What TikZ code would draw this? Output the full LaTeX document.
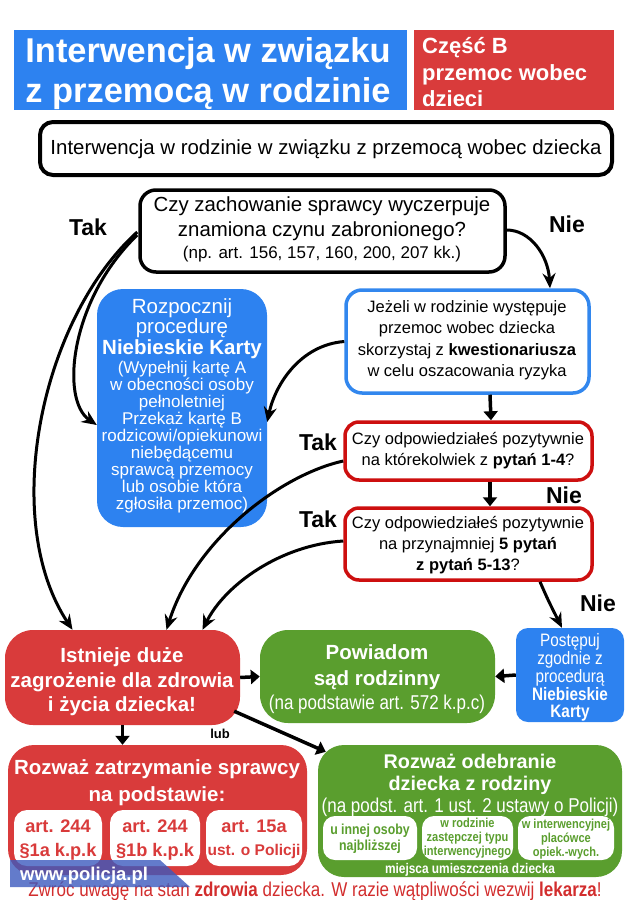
\documentclass[tikz,border=0pt]{standalone}
\usepackage{fontspec}
\setmainfont{Liberation Sans}
\newfontfamily\nar[FakeStretch=0.85]{Liberation Sans}
\usetikzlibrary{arrows.meta,calc}
\definecolor{tblue}{RGB}{45,130,240}
\definecolor{tred}{RGB}{217,59,59}
\definecolor{tgreen}{RGB}{90,158,46}
\definecolor{qred}{RGB}{205,15,15}
\definecolor{jblue}{RGB}{50,135,238}
\definecolor{wm}{RGB}{60,90,190}
\definecolor{btxt}{RGB}{210,45,45}
\newcommand\fsz[1]{\fontsize{#1}{#1}\selectfont}
% name, x, y(visual centre), size, font switches, keys, text
\newcommand\mytx[7]{\node[txt,font=#5\fsz{#4},#6] (#1) at (#2,{#3+0.3*#4}) {#7};}
\begin{document}
\begin{tikzpicture}[x=1pt,y=-1pt,
  txt/.style={inner sep=0pt,anchor=base},
  arr/.style={line width=3pt,-{Stealth[length=15pt,width=13pt,inset=5pt]}},
  sarr/.style={line width=3.5pt,-{Triangle[length=9pt,width=14pt]}},
  fbox/.style={inner sep=0pt,draw=none},
  wt/.style={text=white}]
\useasboundingbox (0,0) rectangle (628,900);
% header
\node[fbox,fill=tblue,minimum width=393,minimum height=80] (title) at (210.5,70) {};
\mytx{t1}{208}{52}{34.4}{\bfseries}{wt}{Interwencja w związku}
\mytx{t2}{208}{92}{34.4}{\bfseries}{wt}{z przemocą w rodzinie}
\node[fbox,fill=tred,minimum width=200,minimum height=80] (partb) at (514,70) {};
\mytx{p1}{422}{47}{22}{\bfseries}{anchor=base west,wt}{Część B}
\mytx{p2}{422}{74}{22}{\bfseries}{anchor=base west,wt}{przemoc wobec}
\mytx{p3}{422}{100}{22}{\bfseries}{anchor=base west,wt}{dzieci}
% intro
\node[fbox,draw=black,line width=4,rounded corners=13,minimum width=572,minimum height=53] (intro) at (326,148.5) {};
\mytx{i1}{326}{148}{20.4}{}{}{Interwencja w rodzinie w związku z przemocą wobec dziecka}
% question 1
\node[fbox,draw=black,line width=3.5,rounded corners=16,minimum width=365,minimum height=82] (q1) at (322.5,231) {};
\mytx{q1a}{322}{205}{20.4}{}{}{Czy zachowanie sprawcy wyczerpuje}
\mytx{q1b}{322}{230}{20.4}{}{}{znamiona czynu zabronionego?}
\mytx{q1c}{322}{253}{17}{}{}{(np. art. 156, 157, 160, 200, 207 kk.)}
\mytx{tak1}{88}{229}{23}{\bfseries}{}{Tak}
\mytx{nie1}{567}{226}{23}{\bfseries}{}{Nie}
% blue procedure box
\node[fbox,fill=tblue,rounded corners=26,minimum width=170,minimum height=238] (rozp) at (182,408) {};
\mytx{r01}{182}{307}{20.5}{}{wt}{Rozpocznij}
\mytx{r02}{182}{327}{20.5}{}{wt}{procedurę}
\mytx{r03}{182}{348}{20.5}{\bfseries}{wt}{Niebieskie Karty}
\mytx{r04}{182}{368}{17}{}{wt}{(Wypełnij kartę A}
\mytx{r05}{182}{385}{17}{}{wt}{w obecności osoby}
\mytx{r06}{182}{402}{17}{}{wt}{pełnoletniej}
\mytx{r07}{182}{419}{17}{}{wt}{Przekaż kartę B}
\mytx{r08}{182}{436}{17}{}{wt}{rodzicowi/opiekunowi}
\mytx{r09}{182}{453}{17}{}{wt}{niebędącemu}
\mytx{r10}{182}{470}{17}{}{wt}{sprawcą przemocy}
\mytx{r11}{182}{487}{17}{}{wt}{lub osobie która}
\mytx{r12}{182}{504}{17}{}{wt}{zgłosiła przemoc)}
% questionnaire box
\node[fbox,draw=jblue,fill=white,line width=3.5,rounded corners=16,minimum width=243,minimum height=103] (jez) at (467.5,341.5) {};
\mytx{j1}{467}{308}{16.5}{}{}{Jeżeli w rodzinie występuje}
\mytx{j2}{467}{329}{16.5}{}{}{przemoc wobec dziecka}
\mytx{j3}{467}{351}{16.5}{}{}{skorzystaj z \textbf{kwestionariusza}}
\mytx{j4}{467}{372}{16.5}{}{}{w celu oszacowania ryzyka}
% red questions
\node[fbox,draw=qred,fill=white,line width=3.5,rounded corners=14,minimum width=247,minimum height=58] (r1) at (468.5,451) {};
\mytx{r1a}{468}{440}{16.5}{}{}{Czy odpowiedziałeś pozytywnie}
\mytx{r1b}{468}{461}{16.5}{}{}{na którekolwiek z \textbf{pytań 1-4}?}
\node[fbox,draw=qred,fill=white,line width=3.5,rounded corners=14,minimum width=247,minimum height=72] (r2) at (468.5,544) {};
\mytx{r2a}{468}{524}{16.5}{}{}{Czy odpowiedziałeś pozytywnie}
\mytx{r2b}{468}{545}{16.5}{}{}{na przynajmniej \textbf{5 pytań}}
\mytx{r2c}{468}{566}{16.5}{}{}{\textbf{z pytań 5-13}?}
\mytx{tak2}{318}{444}{23}{\bfseries}{}{Tak}
\mytx{tak3}{318}{521}{23}{\bfseries}{}{Tak}
\mytx{nie2}{564}{497}{23}{\bfseries}{}{Nie}
\mytx{nie3}{598}{605}{23}{\bfseries}{}{Nie}
% middle row
\node[fbox,fill=tred,rounded corners=28,minimum width=235,minimum height=95] (big) at (122.5,677.5) {};
\mytx{b1}{122}{656}{20.5}{\bfseries}{wt}{Istnieje duże}
\mytx{b2}{122}{681}{20.5}{\bfseries}{wt}{zagrożenie dla zdrowia}
\mytx{b3}{122}{705}{20.5}{\bfseries}{wt}{i życia dziecka!}
\node[fbox,fill=tgreen,rounded corners=28,minimum width=235,minimum height=93] (pow) at (377.5,676.5) {};
\mytx{w1}{377}{653}{20.5}{\bfseries}{wt}{Powiadom}
\mytx{w2}{377}{679}{20.5}{\bfseries}{wt}{sąd rodzinny}
\mytx{w3}{377}{703}{20}{\nar}{wt}{(na podstawie art. 572 k.p.c)}
\node[fbox,fill=tblue,rounded corners=12,minimum width=108,minimum height=94] (post) at (570,675) {};
\mytx{o1}{570}{641}{18}{\nar}{wt}{Postępuj}
\mytx{o2}{570}{659}{18}{\nar}{wt}{zgodnie z}
\mytx{o3}{570}{677}{18}{\nar}{wt}{procedurą}
\mytx{o4}{570}{695}{18}{\nar\bfseries}{wt}{Niebieskie}
\mytx{o5}{570}{712}{18}{\nar\bfseries}{wt}{Karty}
% bottom red
\node[fbox,fill=tred,rounded corners=26,minimum width=299,minimum height=130] (zat) at (157.5,810) {};
\mytx{z1}{157}{768}{20.5}{\bfseries}{wt}{Rozważ zatrzymanie sprawcy}
\mytx{z2}{157}{795}{20.5}{\bfseries}{wt}{na podstawie:}
\node[fbox,fill=white,rounded corners=13,minimum width=88,minimum height=56] (s1) at (58,838) {};
\node[fbox,fill=white,rounded corners=13,minimum width=90,minimum height=56] (s2) at (155,838) {};
\node[fbox,fill=white,rounded corners=13,minimum width=96,minimum height=56] (s3) at (254,838) {};
\mytx{s1a}{58}{827}{18.2}{\bfseries}{text=tred}{art. 244}
\mytx{s1b}{58}{851}{18.2}{\bfseries}{text=tred}{§1a k.p.k}
\mytx{s2a}{155}{827}{18.2}{\bfseries}{text=tred}{art. 244}
\mytx{s2b}{155}{851}{18.2}{\bfseries}{text=tred}{§1b k.p.k}
\mytx{s3a}{254}{827}{18.2}{\bfseries}{text=tred}{art. 15a}
\mytx{s3b}{254}{851}{15.5}{\bfseries}{text=tred}{ust. o Policji}
% bottom green
\node[fbox,fill=tgreen,rounded corners=26,minimum width=304,minimum height=132] (odb) at (470,811) {};
\mytx{d1}{470}{763}{19.8}{\bfseries}{wt}{Rozważ odebranie}
\mytx{d2}{470}{785}{19.8}{\bfseries}{wt}{dziecka z rodziny}
\mytx{d3}{470}{806}{20}{\nar}{wt}{(na podst. art. 1 ust. 2 ustawy o Policji)}
\node[fbox,fill=white,rounded corners=12,minimum width=94,minimum height=44] (g1) at (370,838) {};
\node[fbox,fill=white,rounded corners=12,minimum width=91,minimum height=44] (g2) at (467.5,838) {};
\node[fbox,fill=white,rounded corners=12,minimum width=96,minimum height=44] (g3) at (566,838) {};
\mytx{g1a}{370}{830}{14.5}{\nar\bfseries}{text=tgreen}{u innej osoby}
\mytx{g1b}{370}{846}{14.5}{\nar\bfseries}{text=tgreen}{najbliższej}
\mytx{g2a}{467.5}{824}{13}{\nar\bfseries}{text=tgreen}{w rodzinie}
\mytx{g2b}{467.5}{838}{13}{\nar\bfseries}{text=tgreen}{zastępczej typu}
\mytx{g2c}{467.5}{852}{13}{\nar\bfseries}{text=tgreen}{interwencyjnego}
\mytx{g3a}{566}{825}{13}{\nar\bfseries}{text=tgreen}{w interwencyjnej}
\mytx{g3b}{566}{839}{13}{\nar\bfseries}{text=tgreen}{placówce}
\mytx{g3c}{566}{853}{13}{\nar\bfseries}{text=tgreen}{opiek.-wych.}
\mytx{mu}{470}{869}{14}{\nar\bfseries}{wt}{miejsca umieszczenia dziecka}
\mytx{lub}{220}{735}{13}{\bfseries}{}{lub}
% connectors
\draw[arr] ($(q1.west)+(-1,1)$) .. controls (40,320) and (0,520) .. ($(big.north)+(-50,0)$);
\draw[arr] ($(q1.west)+(-1,4)$) .. controls (70,300) and (60,400) .. ($(rozp.west)+(0,17)$);
\draw[arr] (jez.west) .. controls (300,345) and (275,385) .. ($(rozp.east)+(0,14)$);
\draw[arr] ($(r1.west)+(0,10)$) .. controls (280,475) and (195,540) .. ($(big.north)+(44,0)$);
\draw[arr] ($(r2.west)+(0,-3)$) .. controls (280,545) and (225,585) .. ($(big.north)+(80,0)$);
\draw[arr] ($(q1.east)+(0,-1)$) .. controls (530,230) and (548,255) .. ($(jez.north)+(82.5,0)$);
\draw[arr] ($(r2.south)+(71.5,0)$) .. controls (548,600) .. ($(post.north)+(-8,0)$);
\draw[sarr] ($(jez.south)+(22.5,0)$) -- ($(r1.north)+(22.5,0)$);
\draw[sarr] ($(r1.south)+(21.5,0)$) -- ($(r2.north)+(21.5,0)$);
\draw[sarr] (big.east) -- (pow.west);
\draw[sarr] (post.west) -- (pow.east);
\draw[sarr] (big.south) -- (big.south |- zat.north);
\draw[sarr] ($(big.south east)+(-6,-14)$) -- ($(odb.north west)+(8,7)$);
% footer
\mytx{foot}{315}{890}{20}{\nar}{text=btxt}{Zwróć uwagę na stan \textbf{zdrowia} dziecka. W razie wątpliwości wezwij \textbf{lekarza}!}
\fill[wm,opacity=.8] (10,860) -- (160,860) -- (190,887) -- (10,887) -- cycle;
\mytx{www}{20}{875}{18.5}{\bfseries}{anchor=base west,wt}{www.policja.pl}
\end{tikzpicture}
\end{document}
